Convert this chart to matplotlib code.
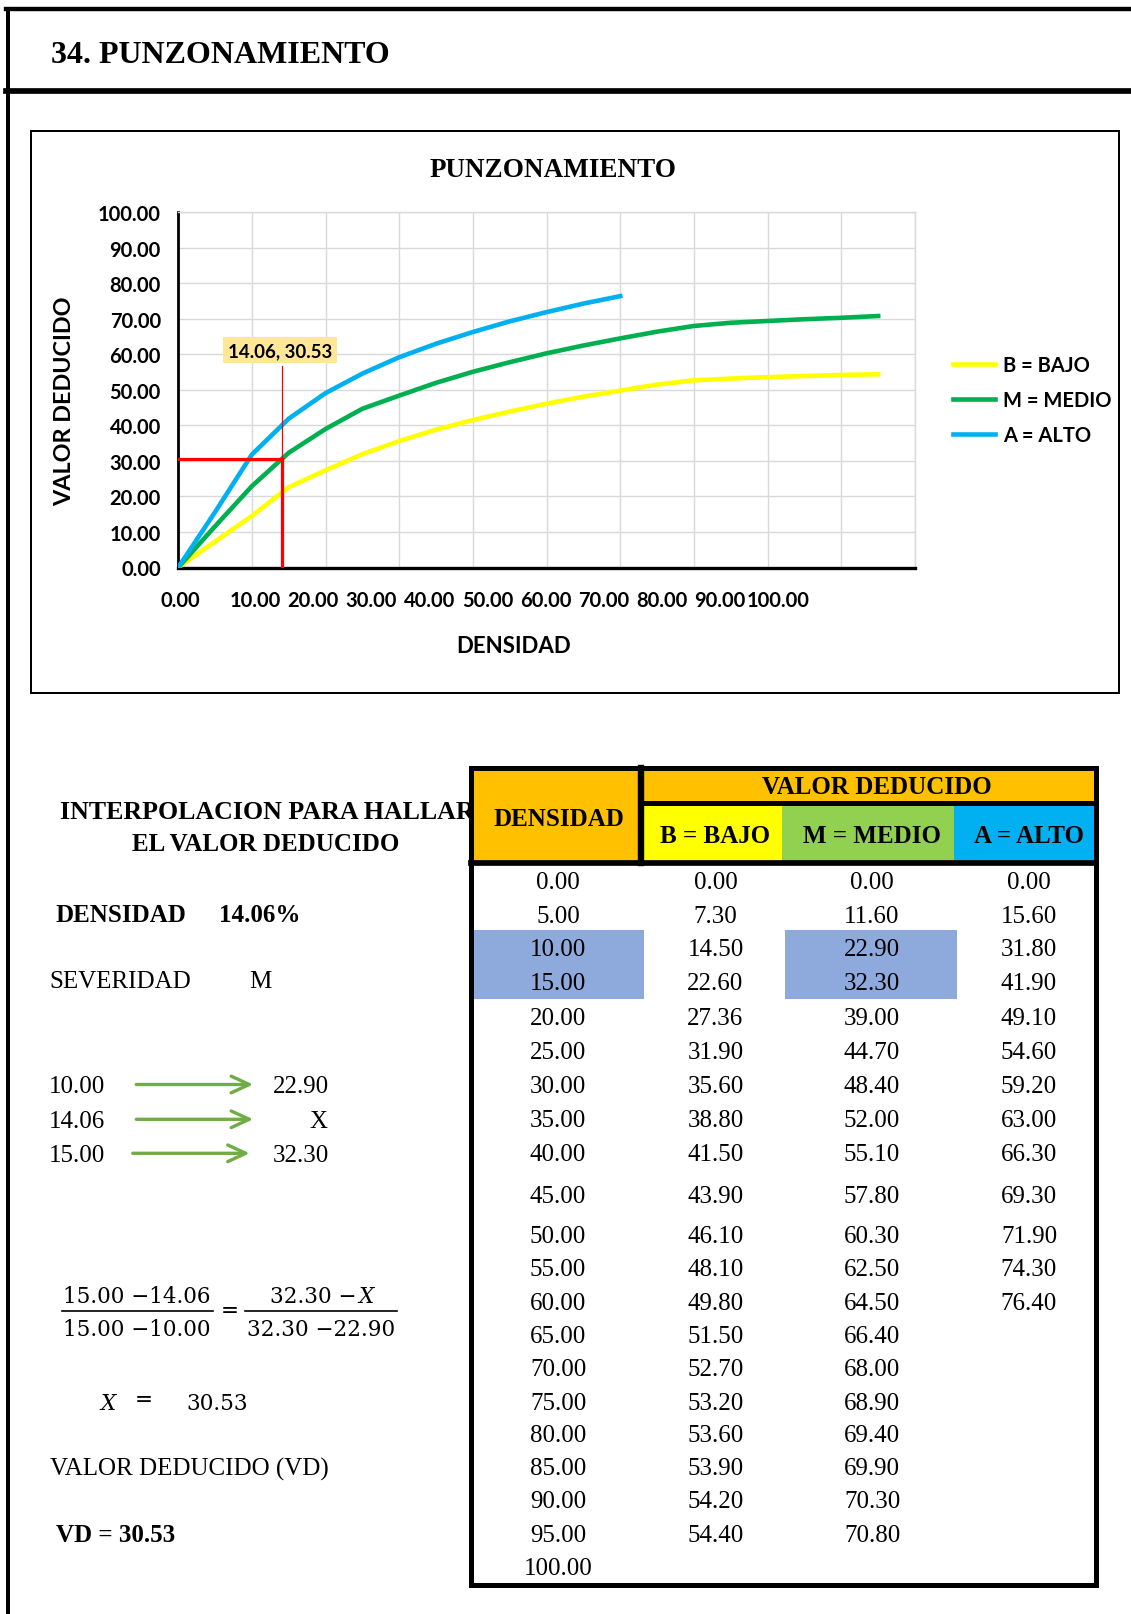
import numpy as np
import matplotlib
matplotlib.use('Agg')
import matplotlib.pyplot as plt
from matplotlib.patches import Rectangle
from matplotlib.transforms import blended_transform_factory

# table / chart data
densidad = [0.0, 5.0, 10.0, 15.0, 20.0, 25.0, 30.0, 35.0, 40.0, 45.0, 50.0,
            55.0, 60.0, 65.0, 70.0, 75.0, 80.0, 85.0, 90.0, 95.0, 100.0]
bajo = [0.0, 7.3, 14.5, 22.6, 27.36, 31.9, 35.6, 38.8, 41.5, 43.9, 46.1,
        48.1, 49.8, 51.5, 52.7, 53.2, 53.6, 53.9, 54.2, 54.4]
medio = [0.0, 11.6, 22.9, 32.3, 39.0, 44.7, 48.4, 52.0, 55.1, 57.8, 60.3,
         62.5, 64.5, 66.4, 68.0, 68.9, 69.4, 69.9, 70.3, 70.8]
alto = [0.0, 15.6, 31.8, 41.9, 49.1, 54.6, 59.2, 63.0, 66.3, 69.3, 71.9,
        74.3, 76.4]
series_labels = ['B = BAJO', 'M = MEDIO', 'A = ALTO']
x_tick_vals = [0, 10, 20, 30, 40, 50, 60, 70, 80, 90, 100]
y_tick_vals = [0, 10, 20, 30, 40, 50, 60, 70, 80, 90, 100]

# interpolation case
dens_obs = 14.06
d_lo, d_hi = 10.0, 15.0
vd_lo, vd_hi = 22.90, 32.30
vd = round(float(np.interp(dens_obs, [d_lo, d_hi], [vd_lo, vd_hi])), 2)

c_yel, c_grn, c_blu = '#FFFF00', '#00B050', '#00B0F0'

W, H = 1131, 1615
PX = 100 / 72.0
fig = plt.figure(figsize=(W / 100, H / 100), dpi=100)

bg = fig.add_axes([0, 0, 1, 1])
bg.set_xlim(0, W)
bg.set_ylim(H, 0)
bg.axis('off')


def put(x, y, s, size, family='Liberation Serif', weight='normal', ha='left',
        cap=0.66, style='normal', z=6):
    # y is the visual middle of the capitals
    bg.text(x, y + cap * size * PX / 2, s, fontsize=size, family=family,
            weight=weight, ha=ha, va='baseline', style=style, zorder=z)


# page frame
bg.plot([8, 8], [7.5, H], color='black', lw=4 / PX, solid_capstyle='butt')
bg.plot([6, W], [9.5, 9.5], color='black', lw=4.4 / PX)
bg.plot([6, W], [92, 92], color='black', lw=5.7 / PX)
put(51, 52.5, '34. PUNZONAMIENTO', 23, weight='bold')

# chart box
bg.add_patch(Rectangle((30.5, 132.2), 1118.5 - 30.5, 694 - 132.2, fill=False,
                       ec='black', lw=2 / PX))
put(553, 168, 'PUNZONAMIENTO', 19.5, weight='bold', ha='center')
bg.text(65, 401, 'VALOR DEDUCIDO', fontsize=16.8, family='Lato', weight='bold',
        rotation=90, ha='center', va='center')
put(514, 645, 'DENSIDAD', 16, family='Lato', weight='bold', ha='center', cap=0.72)

# chart
L, R, T, B = 178.2, 915.0, 213.3, 568.5
ax = fig.add_axes([L / W, 1 - B / H, (R - L) / W, (B - T) / H])
ax.set_facecolor('none')
ax.plot(densidad[:len(bajo)], bajo, color=c_yel, lw=3.3, label=series_labels[0], zorder=3)
ax.plot(densidad[:len(medio)], medio, color=c_grn, lw=3.3, label=series_labels[1], zorder=3)
ax.plot(densidad[:len(alto)], alto, color=c_blu, lw=3.3, label=series_labels[2], zorder=3)

ax.plot([0, dens_obs], [vd, vd], color='red', lw=2.3, zorder=5)
ax.plot([dens_obs, dens_obs], [0, vd], color='red', lw=2.3, zorder=5)
ax.plot([dens_obs, dens_obs], [vd, 56.8], color='red', lw=0.9, zorder=5)
ax.text(13.84, 61.15, f'{dens_obs:.2f}, {vd:.2f}', fontsize=13.5, family='Lato',
        weight='bold', ha='center', va='center', zorder=6,
        bbox=dict(boxstyle='square,pad=0.25', fc='#FFE699', ec='none'))

ax.set_xlim(0, 100)
ax.set_ylim(0, 100)
ax.set_xticks(x_tick_vals)
ax.set_xticklabels([])
ax.set_yticks(y_tick_vals)
ax.set_yticklabels([f'{v:.2f}' for v in y_tick_vals], fontsize=14.5,
                   fontfamily='Lato', fontweight='bold')
ax.tick_params(length=0)
ax.tick_params(axis='y', pad=12.5)
ax.grid(color='#D9D9D9', lw=1.0)
ax.set_axisbelow(True)
ax.spines['left'].set_linewidth(2)
ax.spines['bottom'].set_linewidth(2.4)
for s in ('top', 'right'):
    ax.spines[s].set_color('#D9D9D9')
    ax.spines[s].set_linewidth(1)

# excel placed the category labels off the gridlines
xlab_pos = [0.3] + [10.45 + 7.88 * k for k in range(10)]
tr = blended_transform_factory(ax.transData, ax.transAxes)
for p, v in zip(xlab_pos, x_tick_vals):
    ax.text(p, -0.1084, f'{v:.2f}', transform=tr, ha='center', va='baseline',
            fontsize=14.5, family='Lato', weight='bold', clip_on=False)

ax.legend(loc='center left', bbox_to_anchor=(953 / W, 1 - 401 / H),
          bbox_transform=fig.transFigure, frameon=False, borderpad=0,
          borderaxespad=0, handlelength=2.09, handletextpad=0.38,
          labelspacing=0.74, prop=dict(family='Lato', weight='bold', size=14.5))

# left column: interpolation
put(267, 810, 'INTERPOLACION PARA HALLAR', 18.6, weight='bold', ha='center', z=2)
put(265.5, 842.7, 'EL VALOR DEDUCIDO', 18, weight='bold', ha='center', z=2)
put(55.5, 914, 'DENSIDAD', 18, weight='bold')
put(218.6, 914, f'{dens_obs:.2f}%', 18, weight='bold')
put(49, 980, 'SEVERIDAD', 18)
put(249, 980, 'M', 18)

arrow_rows = [(f'{d_lo:.2f}', f'{vd_lo:.2f}', 1084.5, 133.5, 256),
              (f'{dens_obs:.2f}', 'X', 1119.3, 133.5, 256),
              (f'{d_hi:.2f}', f'{vd_hi:.2f}', 1153.3, 130, 252.5)]
for left, right, yy, x0, x1 in arrow_rows:
    put(49, yy, left, 18)
    if right == 'X':
        put(327, yy, right, 18, ha='right')
    else:
        put(272.7, yy, right, 18)
    bg.annotate('', xy=(x1, yy + 1), xytext=(x0, yy + 1),
                arrowprops=dict(arrowstyle='->,head_length=0.65,head_width=0.3',
                                mutation_scale=20, color='#70AD47', lw=2.4))

fs = 15.5
put(137, 1295, f'{d_hi:.2f} \u2212{dens_obs:.2f}', fs, family='DejaVu Serif', ha='center', cap=0.73)
put(137, 1328.3, f'{d_hi:.2f} \u2212{d_lo:.2f}', fs, family='DejaVu Serif', ha='center', cap=0.73)
bg.plot([61.7, 213], [1312.3, 1312.3], color='black', lw=1.2)
put(230, 1309, '=', fs, family='DejaVu Serif', ha='center', cap=0.73)
put(357, 1295, f'{vd_hi:.2f} \u2212', fs, family='DejaVu Serif', ha='right', cap=0.73)
put(358, 1295, 'X', fs, family='DejaVu Serif', style='italic', cap=0.73)
put(320.8, 1328.3, f'{vd_hi:.2f} \u2212{vd_lo:.2f}', fs, family='DejaVu Serif', ha='center', cap=0.73)
bg.plot([245, 396.7], [1312.3, 1312.3], color='black', lw=1.2)

put(100, 1401.7, 'X', fs, family='DejaVu Serif', style='italic', cap=0.73)
put(144, 1398.5, '=', fs, family='DejaVu Serif', ha='center', cap=0.73)
put(186.7, 1401.7, f'{vd:.2f}', fs, family='DejaVu Serif', cap=0.73)
put(50.5, 1467.3, 'VALOR DEDUCIDO (VD)', 18)
put(56, 1534, f'VD = {vd:.2f}', 18, weight='bold')

# table
tl, tr_, tt, tb = 471, 1096.2, 768.9, 1585.5
xdiv, xbm, xma = 640.8, 782, 953.7
yv, yh = 804.2, 863.8
bg.add_patch(Rectangle((tl, yh), tr_ - tl, tb - yh, fc='white', ec='none', zorder=3))
bg.add_patch(Rectangle((tl, tt), xdiv - tl, yh - tt, fc='#FFC000', ec='none', zorder=3))
bg.add_patch(Rectangle((xdiv, tt), tr_ - xdiv, yv - tt, fc='#FFC000', ec='none', zorder=3))
bg.add_patch(Rectangle((xdiv, yv), xbm - xdiv, yh - yv, fc='#FFFF00', ec='none', zorder=3))
bg.add_patch(Rectangle((xbm, yv), xma - xbm, yh - yv, fc='#92D050', ec='none', zorder=3))
bg.add_patch(Rectangle((xma, yv), tr_ - xma, yh - yv, fc='#00B0F0', ec='none', zorder=3))
bg.add_patch(Rectangle((472.6, 931), 644 - 472.6, 69, fc='#8EA9DB', ec='none', zorder=3.5))
bg.add_patch(Rectangle((785, 931), 956.6 - 785, 69, fc='#8EA9DB', ec='none', zorder=3.5))
bg.add_patch(Rectangle((tl, tt), tr_ - tl, tb - tt, fill=False, ec='black',
                       lw=5 / PX, zorder=4, joinstyle='miter'))
bg.plot([xdiv, xdiv], [tt, yh], color='black', lw=6.4 / PX, zorder=4)
bg.plot([xdiv, tr_], [yv, yv], color='black', lw=5 / PX, zorder=4)
bg.plot([tl, tr_], [yh, yh], color='black', lw=5.7 / PX, zorder=4)

put(558.5, 817.5, 'DENSIDAD', 18, weight='bold', ha='center')
put(876.7, 785.5, 'VALOR DEDUCIDO', 18, weight='bold', ha='center')
col_x = [558, 715.5, 872, 1029]
for lab, cx in zip(series_labels, col_x[1:]):
    put(cx, 834.5, lab, 18, weight='bold', ha='center')

row_y = [881, 915, 948, 981.7, 1016.7, 1051, 1085, 1119, 1153, 1195, 1235,
         1268, 1301.7, 1335, 1367.7, 1401.7, 1434, 1467, 1500, 1534, 1566.7]
for col, cx in zip([densidad, bajo, medio, alto], col_x):
    for v, yy in zip(col, row_y):
        put(cx, yy, f'{v:.2f}', 18, ha='center', cap=0.676)

fig.savefig('out.png', dpi=100)
